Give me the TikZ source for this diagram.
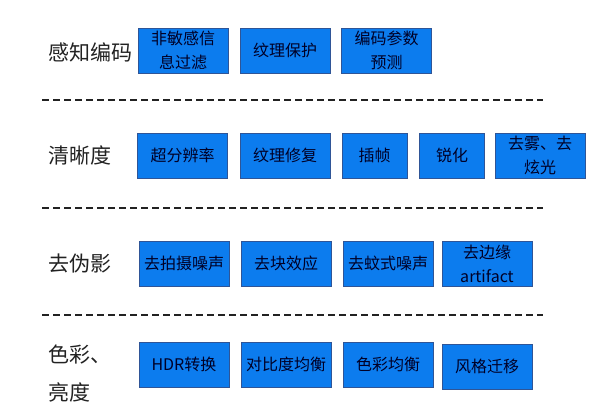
\documentclass[tikz,border=0pt]{standalone}
\usepackage{fontspec}
\setmainfont{Noto Sans CJK SC}
\definecolor{boxfill}{RGB}{12,124,238}
\definecolor{boxline}{RGB}{47,85,151}
\colorlet{itemink}{black!85!blue}
\definecolor{labeltext}{RGB}{34,34,34}
\begin{document}
\begin{tikzpicture}[x=1pt, y=-1pt,
			cat/.style={anchor=west, align=left, text=labeltext, inner sep=0pt, font=\fontsize{21}{38}\selectfont},
			taskbox/.style={rectangle, draw=boxline, fill=boxfill, line width=0.8pt, minimum width=90pt, minimum height=45pt, inner sep=1pt, align=center, text=itemink, font=\fontsize{16}{24}\selectfont},
			narrow/.style={taskbox, minimum width=65pt},
			sepline/.style={draw=labeltext, line width=2pt, dash pattern=on 7pt off 4pt},
		]
		\useasboundingbox (0,0) rectangle (598,418);

		% Perceptual coding
		\node[cat]     (percep)  at (48, 52)      {感知编码};
		\node[taskbox] (filter)  at (183, 50.5)   {非敏感信\\息过滤};
		\node[taskbox] (texkeep) at (285, 50.5)   {纹理保护};
		\node[taskbox] (param)   at (386.5, 50.5) {编码参数\\预测};

		\draw[sepline] (42, 100) -- (543, 100);

		% Sharpness
		\node[cat]     (sharp)    at (48, 155)      {清晰度};
		\node[taskbox] (superres) at (182.5, 155.5) {超分辨率};
		\node[taskbox] (texfix)   at (285, 155.5)   {纹理修复};
		\node[narrow]  (interp)   at (374.5, 155.5) {插帧};
		\node[narrow]  (sharpen)  at (452, 155.5)   {锐化};
		\node[taskbox] (dehaze)   at (540, 155.5)   {去雾、去\\炫光};

		\draw[sepline] (42, 208) -- (543, 208);

		% Artifacts
		\node[cat]     (artif)    at (48, 263.5)  {去伪影};
		\node[taskbox] (moire)    at (184, 263.5) {去拍摄噪声};
		\node[taskbox] (deblock)  at (286, 263.5) {去块效应};
		\node[taskbox] (mosquito) at (388, 263.5) {去蚊式噪声};
		\node[taskbox] (edge)     at (487, 263.5) {去边缘\\artifact};

		\draw[sepline] (42, 315) -- (543, 315);

		% Colour and brightness
		\node[cat]     (colour)   at (48, 373)    {色彩、\\亮度};
		\node[taskbox] (hdr)      at (184, 364.5) {HDR转换};
		\node[taskbox] (contrast) at (286, 364.5) {对比度均衡};
		\node[taskbox] (balance)  at (388, 364.5) {色彩均衡};
		\node[taskbox] (style)    at (487, 366.5) {风格迁移};

	\end{tikzpicture}
\end{document}
